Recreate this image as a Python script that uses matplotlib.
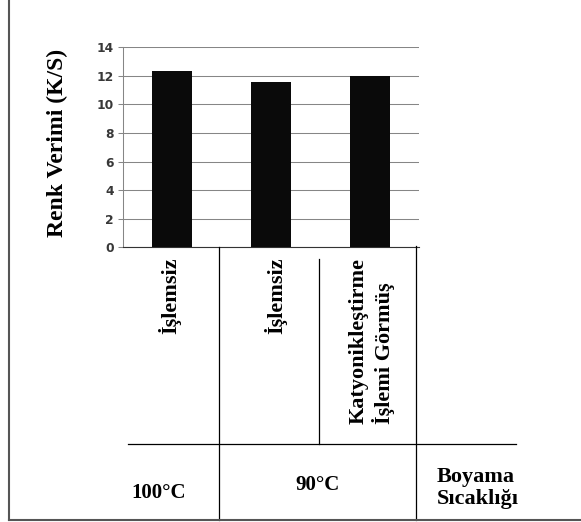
import matplotlib
matplotlib.use("Agg")
import matplotlib.pyplot as plt
from matplotlib.lines import Line2D

# Colour yield (K/S) per sample
categories = ["İşlemsiz", "İşlemsiz", "Katyonikleştirme\nİşlemi Görmüş"]
ks_values = [12.35, 11.55, 12.0]
temperatures = ["100°C", "90°C"]
y_ticks = [0, 2, 4, 6, 8, 10, 12, 14]
y_label = "Renk Verimi (K/S)"
row_title = "Boyama\nSıcaklığı"

W, H = 581, 522
fig = plt.figure(figsize=(W / 100, H / 100), dpi=100)
fig.patch.set_facecolor("white")


def fx(px):
    return px / W


def fy(py):
    return 1 - py / H


serif = "Liberation Serif"

ax = fig.add_axes([fx(122.7), fy(247.3), fx(419.3) - fx(122.7), fy(47.3) - fy(247.3)])
x = list(range(len(categories)))
ax.bar(x, ks_values, width=0.41, color="#0a0a0a", zorder=3)
ax.set_xlim(-0.5, len(categories) - 0.5)
ax.set_ylim(0, 14)
ax.set_yticks(y_ticks)
ax.set_yticklabels([str(t) for t in y_ticks], fontfamily="DejaVu Sans",
                   fontweight="bold", fontsize=8.8, color="#383838")
ax.set_xticks([])
ax.yaxis.grid(True, color="#868686", linewidth=0.75, zorder=0)
ax.set_axisbelow(True)
for side in ("top", "right"):
    ax.spines[side].set_visible(False)
ax.spines["left"].set_color("#868686")
ax.spines["left"].set_linewidth(0.75)
ax.spines["bottom"].set_color("#333333")
ax.spines["bottom"].set_linewidth(0.8)
ax.tick_params(axis="y", direction="out", length=3.5, width=0.75,
               color="#868686", pad=3)

# y-axis title
fig.text(fx(57), fy(143), y_label, rotation=90, ha="center", va="center",
         fontfamily=serif, fontweight="bold", fontsize=17)

# category labels under the bars
label_x = [169.7, 275.5, 372]
for cx, lab in zip(label_x, categories):
    fig.text(fx(cx), fy(258), lab, rotation=90, ha="center", va="top",
             multialignment="left", linespacing=1.2,
             fontfamily=serif, fontweight="bold", fontsize=16)

# temperature row
fig.text(fx(159), fy(493), temperatures[0], ha="center", va="center",
         fontfamily=serif, fontweight="bold", fontsize=15)
fig.text(fx(317.5), fy(485), temperatures[1], ha="center", va="center",
         fontfamily=serif, fontweight="bold", fontsize=15)
fig.text(fx(437), fy(488), row_title, ha="left", va="center",
         linespacing=1.15, fontfamily=serif, fontweight="bold", fontsize=16)

# table rules
table_lines = [
    ((128.3, 515.7), (444, 444)),
    ((219.3, 219.3), (247, 520)),
    ((416, 416), (246, 520)),
    ((319.3, 319.3), (259, 444)),
]
for xs, ys in table_lines:
    fig.add_artist(Line2D([fx(v) for v in xs], [fy(v) for v in ys],
                          transform=fig.transFigure, color="black", linewidth=0.9))

# outer frame (left and bottom)
fig.add_artist(Line2D([fx(9.3), fx(9.3)], [fy(0), fy(519.5)],
                      transform=fig.transFigure, color="#555555", linewidth=1.5))
fig.add_artist(Line2D([fx(9.3), fx(581)], [fy(519.5), fy(519.5)],
                      transform=fig.transFigure, color="#555555", linewidth=1.5))

fig.savefig("out.png", dpi=100, facecolor="white")
